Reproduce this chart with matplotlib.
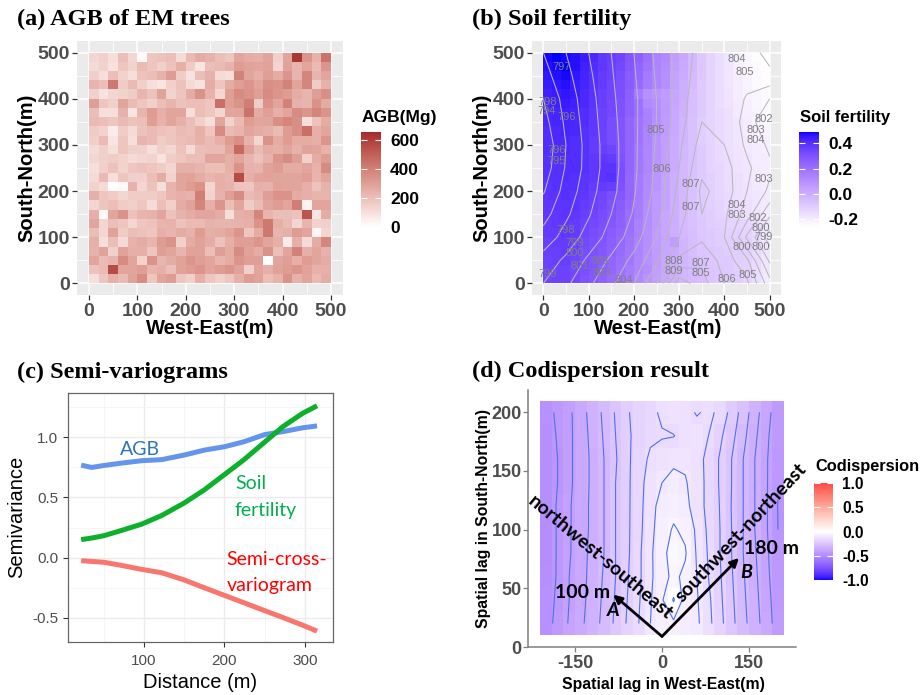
"""
Four-panel figure: AGB map, soil fertility map, semi-variograms, codispersion map
"""
import numpy as np
import matplotlib
matplotlib.use('Agg')
import matplotlib.pyplot as plt
from matplotlib.colors import LinearSegmentedColormap, Normalize, to_rgb

plt.rcParams['font.family'] = 'Liberation Sans'
plt.rcParams['axes.unicode_minus'] = False

W, H = 921, 695
GRAY_PANEL = '#EBEBEB'
TICK_TXT = '#4D4D4D'

# ---------------------------------------------------------------- data
# (a) AGB of EM trees, 20 m cells, rows north -> south, cols west -> east (Mg)
agb_grid = [
    [130, 150, 100, 200, 130, 20, 180, 190, 200, 110, 210, 260, 240, 200, 180, 280, 260, 250, 280, 150, 280, 620, 330, 240, 440],
    [110, 140, 90, 180, 140, 210, 180, 150, 190, 250, 160, 80, 200, 210, 240, 310, 290, 280, 290, 130, 290, 230, 280, 210, 330],
    [150, 100, 200, 140, 100, 190, 200, 240, 310, 160, 90, 200, 240, 110, 100, 390, 280, 250, 300, 260, 330, 230, 380, 230, 280],
    [230, 200, 420, 160, 210, 150, 100, 80, 150, 190, 110, 90, 260, 180, 260, 300, 330, 280, 350, 340, 390, 280, 380, 160, 240],
    [150, 90, 130, 140, 160, 230, 190, 290, 140, 180, 260, 340, 240, 130, 300, 360, 340, 300, 360, 330, 310, 260, 230, 300, 350],
    [300, 180, 150, 280, 210, 180, 150, 200, 230, 190, 200, 200, 180, 450, 300, 340, 400, 160, 340, 280, 390, 240, 230, 340, 260],
    [200, 100, 100, 240, 80, 230, 310, 250, 280, 280, 100, 200, 180, 130, 280, 280, 440, 260, 300, 250, 280, 360, 330, 380, 340],
    [210, 200, 180, 210, 190, 200, 300, 240, 280, 250, 200, 150, 100, 280, 140, 210, 310, 280, 280, 350, 380, 350, 100, 190, 260],
    [160, 140, 60, 160, 110, 190, 210, 190, 180, 210, 200, 250, 180, 360, 210, 230, 280, 260, 250, 210, 310, 350, 450, 250, 280],
    [150, 210, 80, 180, 100, 230, 210, 160, 180, 200, 210, 240, 210, 250, 310, 350, 240, 130, 340, 260, 310, 260, 260, 250, 330],
    [110, 150, 100, 180, 150, 150, 100, 150, 130, 190, 110, 200, 210, 210, 280, 470, 290, 210, 260, 250, 280, 240, 290, 280, 240],
    [130, 150, 160, 140, 110, 130, 140, 90, 160, 180, 200, 200, 280, 280, 250, 280, 230, 190, 240, 330, 360, 300, 150, 260, 310],
    [100, 150, 190, 140, 180, 190, 180, 160, 130, 250, 250, 230, 200, 200, 250, 340, 240, 230, 290, 310, 260, 260, 280, 240, 360],
    [110, 210, 100, 180, 150, 150, 200, 260, 140, 280, 290, 260, 230, 250, 230, 560, 250, 280, 290, 280, 280, 280, 300, 230, 280],
    [140, 110, 10, 20, 240, 130, 190, 100, 240, 280, 310, 340, 130, 250, 240, 190, 180, 250, 240, 290, 280, 280, 250, 190, 240],
    [250, 180, 160, 130, 160, 160, 160, 180, 230, 250, 240, 400, 140, 240, 300, 360, 210, 230, 300, 340, 340, 260, 250, 230, 230],
    [130, 180, 200, 160, 150, 180, 110, 200, 150, 260, 290, 380, 250, 330, 200, 280, 160, 210, 280, 310, 280, 400, 40, 280, 280],
    [250, 20, 280, 340, 190, 230, 240, 280, 190, 240, 260, 280, 280, 260, 100, 250, 260, 380, 230, 200, 200, 190, 530, 80, 260],
    [280, 130, 200, 180, 130, 180, 190, 230, 240, 190, 210, 210, 240, 230, 230, 240, 250, 340, 420, 250, 210, 130, 230, 140, 150],
    [200, 130, 290, 160, 200, 190, 180, 250, 230, 260, 240, 310, 250, 260, 280, 330, 180, 260, 420, 230, 250, 310, 280, 30, 130],
    [250, 100, 200, 110, 240, 260, 230, 310, 340, 150, 260, 290, 260, 190, 250, 300, 300, 330, 280, 250, 60, 250, 110, 260, 380],
    [240, 290, 150, 290, 250, 250, 180, 300, 280, 230, 290, 290, 200, 300, 260, 360, 290, 260, 340, 200, 280, 390, 250, 280, 240],
    [280, 210, 230, 360, 280, 140, 340, 230, 260, 290, 330, 300, 280, 230, 260, 330, 300, 300, 0, 280, 300, 250, 310, 280, 260],
    [190, 210, 560, 280, 280, 300, 230, 250, 200, 290, 310, 330, 280, 310, 330, 290, 150, 280, 250, 290, 310, 330, 290, 240, 250],
    [100, 180, 250, 210, 290, 360, 180, 280, 310, 180, 150, 250, 180, 150, 180, 250, 310, 290, 200, 240, 340, 240, 280, 210, 260],
]

# (b) soil fertility index, same 20 m cells, rows north -> south
soil_grid = [
    [.48, .49, .48, .47, .45, .42, .38, .36, .34, .29, .25, .20, .14, .12, .06, .02, -.03, -.08, -.12, -.15, -.18, -.21, -.23, -.25, -.26],
    [.47, .48, .49, .47, .44, .41, .38, .35, .33, .28, .24, .19, .14, .11, .05, .02, -.03, -.08, -.12, -.15, -.18, -.21, -.23, -.24, -.26],
    [.46, .47, .48, .46, .43, .40, .37, .35, .32, .27, .23, .17, .13, .10, .04, .01, -.04, -.08, -.12, -.15, -.18, -.20, -.22, -.24, -.25],
    [.45, .46, .47, .45, .43, .40, .37, .34, .31, .27, .22, .17, .13, .10, .04, .00, -.04, -.09, -.12, -.15, -.18, -.20, -.22, -.24, -.25],
    [.44, .45, .46, .45, .42, .39, .36, .34, .31, .26, .16, .10, .08, .06, .03, .00, -.05, -.09, -.12, -.15, -.17, -.20, -.22, -.23, -.24],
    [.43, .44, .45, .44, .42, .39, .36, .33, .30, .25, .20, .12, .10, .07, .03, -.01, -.05, -.09, -.12, -.15, -.17, -.19, -.21, -.23, -.24],
    [.42, .43, .44, .43, .41, .38, .35, .33, .30, .25, .20, .15, .11, .07, .02, -.01, -.05, -.09, -.12, -.14, -.16, -.19, -.21, -.22, -.24],
    [.42, .43, .43, .42, .41, .38, .35, .32, .29, .24, .19, .15, .10, .06, .02, -.02, -.06, -.10, -.12, -.14, -.16, -.18, -.20, -.22, -.23],
    [.41, .42, .43, .42, .40, .38, .35, .32, .29, .24, .19, .14, .10, .06, .02, -.02, -.06, -.10, -.12, -.14, -.16, -.18, -.20, -.21, -.22],
    [.41, .42, .42, .41, .40, .37, .35, .32, .29, .24, .19, .14, .09, .05, .01, -.02, -.06, -.10, -.12, -.14, -.16, -.18, -.19, -.20, -.21],
    [.41, .41, .42, .41, .40, .37, .36, .34, .29, .24, .18, .13, .09, .05, .01, -.03, -.06, -.09, -.12, -.14, -.16, -.17, -.19, -.20, -.21],
    [.40, .41, .41, .41, .40, .38, .38, .37, .30, .24, .18, .13, .09, .05, .01, -.03, -.06, -.09, -.12, -.14, -.15, -.17, -.18, -.20, -.20],
    [.40, .40, .41, .41, .40, .38, .39, .39, .31, .24, .18, .13, .08, .05, .01, -.03, -.06, -.09, -.12, -.13, -.15, -.17, -.18, -.19, -.20],
    [.40, .40, .41, .40, .39, .38, .39, .40, .31, .23, .17, .12, .08, .04, .00, -.03, -.06, -.09, -.11, -.13, -.15, -.16, -.18, -.19, -.20],
    [.39, .40, .40, .40, .39, .37, .37, .36, .30, .23, .17, .12, .08, .04, .00, -.03, -.06, -.09, -.11, -.13, -.15, -.16, -.17, -.19, -.20],
    [.39, .39, .40, .39, .38, .36, .34, .31, .28, .23, .17, .12, .07, .04, .00, -.03, -.06, -.09, -.11, -.13, -.14, -.16, -.17, -.18, -.19],
    [.38, .39, .39, .39, .37, .35, .33, .30, .27, .22, .16, .11, .07, .04, .00, -.03, -.06, -.09, -.11, -.12, -.14, -.15, -.16, -.18, -.19],
    [.38, .38, .39, .38, .36, .34, .32, .29, .26, .21, .16, .11, .07, .03, .00, -.04, -.06, -.09, -.10, -.12, -.13, -.15, -.16, -.17, -.19],
    [.37, .38, .38, .37, .35, .33, .31, .28, .25, .21, .15, .11, .07, .03, .00, -.04, -.06, -.08, -.10, -.11, -.12, -.12, -.13, -.15, -.18],
    [.37, .37, .38, .37, .34, .32, .30, .27, .24, .20, .15, .10, .06, .03, .00, -.03, -.05, -.08, -.09, -.10, -.11, -.11, -.12, -.14, -.18],
    [.36, .37, .37, .36, .33, .31, .29, .26, .23, .19, .14, .10, .06, .03, .06, -.02, -.05, -.07, -.09, -.10, -.10, -.10, -.11, -.14, -.18],
    [.36, .36, .37, .35, .32, .30, .28, .25, .22, .18, .14, .10, .06, .03, .01, -.02, -.05, -.07, -.08, -.09, -.10, -.10, -.11, -.14, -.18],
    [.35, .36, .36, .34, .31, .29, .27, .24, .21, .18, .13, .09, .06, .02, .01, -.02, -.04, -.06, -.08, -.09, -.09, -.10, -.11, -.14, -.18],
    [.35, .35, .35, .33, .31, .29, .26, .23, .20, .17, .13, .11, .05, .02, .00, -.02, -.04, -.06, -.07, -.08, -.09, -.10, -.11, -.14, -.18],
    [.34, .35, .35, .33, .30, .28, .25, .22, .19, .16, .12, .08, .05, .02, .00, -.02, -.04, -.05, -.07, -.08, -.09, -.10, -.12, -.15, -.19],
]

# (b) elevation (m) on a 50 m grid, rows north -> south
elev_grid = [
    [797.0, 798.0, 799.0, 800.0, 801.0, 802.2, 803.4, 804.4, 804.2, 804.6, 805.3],
    [796.6, 797.7, 798.8, 799.9, 800.9, 802.1, 803.4, 804.6, 804.5, 804.4, 804.8],
    [796.0, 797.4, 798.6, 799.8, 800.8, 802.0, 803.5, 804.8, 804.7, 803.9, 803.0],
    [795.6, 797.2, 798.5, 799.7, 800.8, 802.0, 803.6, 805.0, 804.8, 803.6, 802.0],
    [795.2, 797.0, 798.4, 799.6, 800.8, 802.1, 803.8, 805.4, 805.0, 803.8, 802.8],
    [795.4, 797.1, 798.4, 799.6, 800.8, 802.2, 804.0, 805.8, 805.4, 804.2, 803.2],
    [795.9, 797.4, 798.6, 799.7, 800.9, 802.3, 804.3, 806.2, 805.6, 804.0, 802.8],
    [796.6, 797.8, 798.9, 800.0, 801.1, 802.6, 804.6, 806.0, 805.2, 803.5, 801.2],
    [797.4, 798.4, 799.4, 800.4, 801.5, 803.0, 805.0, 805.8, 805.0, 801.8, 799.5],
    [798.4, 799.2, 800.2, 801.2, 802.3, 803.8, 806.2, 806.8, 805.6, 804.2, 800.8],
    [799.0, 799.8, 800.8, 801.8, 803.0, 805.0, 808.6, 807.4, 806.0, 805.2, 802.4],
]
elev_x = [0, 50, 100, 150, 200, 250, 300, 350, 400, 450, 500]
elev_y = [500, 450, 400, 350, 300, 250, 200, 150, 100, 50, 0]

# contour labels as printed on the map: (x, y, level)
contour_labels = [
    (40, 469, '797'), (9, 392, '798'), (8, 374, '794'), (52, 360, '796'),
    (29, 290, '796'), (29, 266, '795'), (49, 116, '798'), (69, 88, '799'),
    (69, 66, '800'), (9, 20, '799'), (80, 38, '801'), (128, 48, '801'),
    (130, 22, '803'), (178, 8, '804'), (248, 333, '805'), (262, 248, '806'),
    (326, 215, '807'), (326, 165, '807'), (288, 49, '808'), (288, 28, '809'),
    (347, 44, '807'), (347, 22, '805'), (405, 10, '806'), (452, 18, '805'),
    (428, 487, '804'), (446, 458, '805'), (487, 356, '802'), (469, 332, '803'),
    (469, 310, '804'), (487, 227, '803'), (428, 170, '804'), (428, 149, '803'),
    (474, 142, '802'), (480, 121, '800'), (487, 100, '799'), (438, 80, '800'),
    (481, 78, '800'),
]

# (c) semi-variograms
distance = [22, 35, 50, 72, 97, 122, 150, 175, 200, 224, 250, 273, 297, 315]
gamma_agb = [0.768, 0.749, 0.765, 0.785, 0.805, 0.814, 0.852, 0.893, 0.921, 0.962, 1.022, 1.047, 1.078, 1.094]
gamma_soil = [0.150, 0.163, 0.182, 0.226, 0.278, 0.350, 0.454, 0.563, 0.690, 0.812, 0.960, 1.090, 1.198, 1.261]
gamma_cross = [-0.025, -0.031, -0.038, -0.064, -0.097, -0.125, -0.185, -0.250, -0.313, -0.374, -0.440, -0.498, -0.560, -0.610]

# (d) codispersion on spatial lags (20 m), rows y = 200 -> 20
lag_x = [-200, -180, -160, -140, -120, -100, -80, -60, -40, -20, 0, 20, 40, 60, 80, 100, 120, 140, 160, 180, 200]
lag_y = [200, 180, 160, 140, 120, 100, 80, 60, 40, 20]
codisp_grid = [
    [-.47, -.44, -.41, -.37, -.33, -.29, -.245, -.205, -.18, -.165, -.14, -.12, -.13, -.155, -.14, -.16, -.22, -.27, -.33, -.38, -.43],
    [-.48, -.445, -.41, -.375, -.335, -.295, -.25, -.21, -.18, -.16, -.155, -.152, -.13, -.125, -.15, -.19, -.235, -.285, -.34, -.39, -.435],
    [-.48, -.45, -.41, -.375, -.34, -.30, -.255, -.21, -.175, -.14, -.12, -.11, -.11, -.13, -.165, -.205, -.25, -.30, -.35, -.395, -.44],
    [-.48, -.45, -.41, -.375, -.34, -.30, -.25, -.21, -.17, -.125, -.10, -.085, -.095, -.125, -.165, -.205, -.25, -.30, -.35, -.395, -.445],
    [-.48, -.445, -.405, -.375, -.337, -.30, -.25, -.21, -.168, -.118, -.08, -.065, -.085, -.125, -.165, -.202, -.252, -.30, -.35, -.395, -.452],
    [-.485, -.445, -.405, -.375, -.337, -.30, -.25, -.21, -.165, -.115, -.07, -.045, -.06, -.11, -.16, -.20, -.25, -.30, -.35, -.395, -.45],
    [-.485, -.445, -.405, -.37, -.335, -.30, -.25, -.21, -.16, -.11, -.06, -.035, -.045, -.105, -.155, -.20, -.25, -.30, -.345, -.39, -.445],
    [-.48, -.445, -.40, -.37, -.33, -.295, -.25, -.205, -.16, -.11, -.065, -.04, -.06, -.10, -.15, -.195, -.245, -.295, -.34, -.385, -.44],
    [-.475, -.44, -.40, -.365, -.33, -.29, -.245, -.20, -.155, -.105, -.055, .005, -.07, -.095, -.14, -.19, -.24, -.29, -.335, -.38, -.43],
    [-.47, -.435, -.395, -.36, -.325, -.285, -.24, -.195, -.15, -.10, -.07, -.06, -.075, -.09, -.135, -.185, -.235, -.285, -.33, -.375, -.425],
]


# ---------------------------------------------------------------- helpers
def px_axes(x0, y0, x1, y1):
    return fig.add_axes([x0 / W, 1 - y1 / H, (x1 - x0) / W, (y1 - y0) / H])


def fx(x):
    return x / W


def fy(y):
    return 1 - y / H


WHITE_REF = np.array([0.95047, 1.0, 1.08883])


def srgb_to_lab(c):
    c = np.asarray(to_rgb(c), float)
    lin = np.where(c <= 0.04045, c / 12.92, ((c + 0.055) / 1.055) ** 2.4)
    m = np.array([[0.4124, 0.3576, 0.1805], [0.2126, 0.7152, 0.0722], [0.0193, 0.1192, 0.9505]])
    xyz = m @ lin / WHITE_REF
    f = np.where(xyz > 0.008856, np.cbrt(xyz), 7.787 * xyz + 16 / 116)
    return np.array([116 * f[1] - 16, 500 * (f[0] - f[1]), 200 * (f[1] - f[2])])


def lab_to_srgb(lab):
    L, a, b = lab
    fyy = (L + 16) / 116
    f = np.array([fyy + a / 500, fyy, fyy - b / 200])
    xyz = np.where(f ** 3 > 0.008856, f ** 3, (f - 16 / 116) / 7.787) * WHITE_REF
    m = np.array([[3.2406, -1.5372, -0.4986], [-0.9689, 1.8758, 0.0415], [0.0557, -0.2040, 1.0570]])
    lin = np.clip(m @ xyz, 0, 1)
    return np.where(lin <= 0.0031308, 12.92 * lin, 1.055 * lin ** (1 / 2.4) - 0.055)


def lab_cmap(colors, n=256):
    # ggplot interpolates gradients in Lab space
    labs = [srgb_to_lab(c) for c in colors]
    out = []
    for v in np.linspace(0, len(colors) - 1, n):
        i = min(int(v), len(colors) - 2)
        w = v - i
        out.append(np.clip(lab_to_srgb((1 - w) * labs[i] + w * labs[i + 1]), 0, 1))
    return LinearSegmentedColormap.from_list('lab', out)


def gg_gray_axes(ax, xl, yl):
    ax.set_facecolor(GRAY_PANEL)
    ax.set_axisbelow(True)
    for s in ax.spines.values():
        s.set_visible(False)
    ax.set_xlim(*xl)
    ax.set_ylim(*yl)
    ax.set_xticks([0, 100, 200, 300, 400, 500])
    ax.set_yticks([0, 100, 200, 300, 400, 500])
    ax.set_xticks([50, 150, 250, 350, 450], minor=True)
    ax.set_yticks([50, 150, 250, 350, 450], minor=True)
    ax.grid(True, which='major', color='white', lw=1.1)
    ax.grid(True, which='minor', color='white', lw=0.55)
    ax.tick_params(which='minor', length=0)
    ax.tick_params(which='major', length=3.5, width=0.9, color='#333333',
                   labelcolor=TICK_TXT, labelsize=14)
    ax.tick_params(axis='x', pad=2.5)
    ax.tick_params(axis='y', pad=1.5)
    for lab in ax.get_xticklabels() + ax.get_yticklabels():
        lab.set_fontweight('bold')


def gg_colorbar(mappable, box, ticks, labels, size, title, title_size, title_y):
    cax = px_axes(*box)
    cb = fig.colorbar(mappable, cax=cax, ticks=ticks)
    cb.outline.set_visible(False)
    cb.ax.set_yticklabels(labels, fontsize=size, fontweight='bold')
    cb.ax.tick_params(direction='in', length=4, width=0.8, color='white',
                      left=True, right=True, pad=6.5)
    fig.text(fx(box[0] + 1), fy(title_y), title, fontsize=title_size,
             fontweight='bold', ha='left', va='baseline')


fig = plt.figure(figsize=(W / 100, H / 100), dpi=100)
fig.patch.set_facecolor('white')

TITLE_KW = dict(family='Liberation Serif', fontweight='bold', fontsize=17.5,
                ha='left', va='baseline')
AXT_KW = dict(fontweight='bold', fontsize=14.5, ha='center', va='center')

cells = np.arange(0, 501, 20)

# ---------------------------------------------------------------- (a)
ax_a = px_axes(77, 41, 343, 295)
cmap_a = lab_cmap(['white', '#A52A2A'])
mesh_a = ax_a.pcolormesh(cells, cells, np.flipud(np.array(agb_grid, float)),
                         cmap=cmap_a, norm=Normalize(0, 654), shading='flat')
gg_gray_axes(ax_a, (-25, 525), (-25, 525))
fig.text(fx(17), fy(25.5), '(a) AGB of EM trees', **TITLE_KW)
fig.text(fx(27), fy(168), 'South-North(m)', rotation=90, **AXT_KW)
fig.text(fx(210), fy(329), 'West-East(m)', **AXT_KW)
gg_colorbar(mesh_a, (361, 132, 381, 227), [0, 200, 400, 600],
            ['0', '200', '400', '600'], 12.5, 'AGB(Mg)', 12.5, 122)

# ---------------------------------------------------------------- (b)
ax_b = px_axes(532, 41, 781, 295)
cmap_b = lab_cmap(['white', '#0000FF'])
mesh_b = ax_b.pcolormesh(cells, cells, np.flipud(np.array(soil_grid, float)),
                         cmap=cmap_b, norm=Normalize(-0.26, 0.49), shading='flat')
ax_b.contour(elev_x, elev_y, np.array(elev_grid), levels=np.arange(795, 810),
             colors='#B8B8B8', linewidths=0.75, linestyles='solid')
for lx, ly, lt in contour_labels:
    ax_b.text(lx, ly, lt, fontsize=8, color='#7F7F7F', ha='center', va='center', zorder=4)
gg_gray_axes(ax_b, (-25, 525), (-25, 525))
fig.text(fx(472), fy(25.5), '(b) Soil fertility', **TITLE_KW)
fig.text(fx(482), fy(168), 'South-North(m)', rotation=90, **AXT_KW)
fig.text(fx(658), fy(329), 'West-East(m)', **AXT_KW)
gg_colorbar(mesh_b, (799, 132, 819, 227), [-0.2, 0.0, 0.2, 0.4],
            ['-0.2', '0.0', '0.2', '0.4'], 12.5, 'Soil fertility', 12, 122)

# ---------------------------------------------------------------- (c)
ax_c = px_axes(68, 393, 333, 642)
ax_c.set_xlim(5.6, 334.8)
ax_c.set_ylim(-0.70, 1.367)
ax_c.set_xticks([100, 200, 300])
ax_c.set_xticks([50, 150, 250], minor=True)
ax_c.set_yticks([-0.5, 0.0, 0.5, 1.0])
ax_c.set_yticks([-0.25, 0.25, 0.75, 1.25], minor=True)
ax_c.set_yticklabels(['-0.5', '0.0', '0.5', '1.0'])
ax_c.set_axisbelow(True)
ax_c.grid(True, which='major', color='#EBEBEB', lw=1.0)
ax_c.grid(True, which='minor', color='#F4F4F4', lw=0.6)
ax_c.tick_params(which='minor', length=0)
ax_c.tick_params(which='major', length=3.5, width=0.8, color='#333333',
                 labelcolor=TICK_TXT, labelsize=11)
ax_c.tick_params(axis='x', pad=5)
for s in ax_c.spines.values():
    s.set_color('#666666')
    s.set_linewidth(0.9)

ax_c.plot(distance, gamma_agb, color='#6495ED', lw=3.6, solid_capstyle='butt')
ax_c.plot(distance, gamma_soil, color='#0DB02B', lw=3.6, solid_capstyle='butt')
ax_c.plot(distance, gamma_cross, color='#F8766D', lw=3.6, solid_capstyle='butt')

LAB_KW = dict(family='Lato', fontsize=14, ha='left', va='center')
ax_c.text(70, 0.897, 'AGB', color='#2E75B6', **LAB_KW)
ax_c.text(213, 0.614, 'Soil', color='#00B050', **LAB_KW)
ax_c.text(213, 0.392, 'fertility', color='#00B050', **LAB_KW)
ax_c.text(202, -0.019, 'Semi-cross-', color='#FF0000', **LAB_KW)
ax_c.text(203, -0.233, 'variogram', color='#FF0000', **LAB_KW)

fig.text(fx(17), fy(378), '(c) Semi-variograms', **TITLE_KW)
fig.text(fx(17), fy(517), 'Semivariance', rotation=90, fontsize=14.5, ha='center', va='center')
fig.text(fx(200), fy(682), 'Distance (m)', fontsize=14.5, ha='center', va='center')

# ---------------------------------------------------------------- (d)
ax_d = px_axes(528, 390, 796, 647)
cmap_d = lab_cmap(['#0000FF', 'white', '#FF4545'])
xe = np.arange(-210, 211, 20)
ye = np.arange(10, 211, 20)
cod = np.flipud(np.array(codisp_grid))
mesh_d = ax_d.pcolormesh(xe, ye, cod, cmap=cmap_d, norm=Normalize(-1, 1), shading='flat')
ax_d.contour(lag_x, lag_y[::-1], cod, levels=np.arange(-0.55, 0.001, 0.05),
             colors='#4F70F0', linewidths=0.8, linestyles='solid')
ax_d.set_xlim(-231, 231)
ax_d.set_ylim(0, 219)
ax_d.set_xticks([-150, 0, 150])
ax_d.set_yticks([0, 50, 100, 150, 200])
for side in ('top', 'right'):
    ax_d.spines[side].set_visible(False)
for side in ('left', 'bottom'):
    ax_d.spines[side].set_color('#7F7F7F')
    ax_d.spines[side].set_linewidth(1.1)
ax_d.tick_params(length=3.5, width=0.9, color='#7F7F7F', labelcolor=TICK_TXT, labelsize=13)
ax_d.tick_params(axis='x', pad=2.5)
ax_d.tick_params(axis='y', pad=1)
for lab in ax_d.get_xticklabels() + ax_d.get_yticklabels():
    lab.set_fontweight('bold')

arrow_kw = dict(arrowstyle='-|>,head_length=0.5,head_width=0.25', color='black', lw=2.0,
                shrinkA=0, shrinkB=0)
ax_d.annotate('', xy=(-84, 44.6), xytext=(0, 9), arrowprops=arrow_kw)
ax_d.annotate('', xy=(132.6, 75.9), xytext=(0, 9), arrowprops=arrow_kw)

ANN_KW = dict(family='Lato', fontsize=14, color='black', ha='center', va='center')
fig.text(fx(600), fy(558), 'northwest-southeast', rotation=-40, rotation_mode='anchor',
         fontweight='bold', **ANN_KW)
fig.text(fx(741), fy(533), 'southwest-northeast', rotation=46.8, rotation_mode='anchor',
         fontweight='bold', **ANN_KW)
fig.text(fx(583), fy(592), '100 m', fontweight='bold', **ANN_KW)
fig.text(fx(771), fy(549), '180 m', fontweight='bold', **ANN_KW)
fig.text(fx(613), fy(610), 'A', style='italic', fontweight='bold', **ANN_KW)
fig.text(fx(746), fy(572), 'B', style='italic', fontweight='bold', **ANN_KW)

fig.text(fx(472), fy(377.5), '(d) Codispersion result', **TITLE_KW)
fig.text(fx(483), fy(518), 'Spatial lag in South-North(m)', rotation=90,
         fontweight='bold', fontsize=11.3, ha='center', va='center')
fig.text(fx(663), fy(684), 'Spatial lag in West-East(m)',
         fontweight='bold', fontsize=11.3, ha='center', va='center')
gg_colorbar(mesh_d, (814, 483, 833, 580), [-1.0, -0.5, 0.0, 0.5, 1.0],
            ['-1.0', '-0.5', '0.0', '0.5', '1.0'], 11.2, 'Codispersion', 11.8, 471)

fig.savefig('out.png', dpi=100, facecolor='white')
plt.close(fig)
